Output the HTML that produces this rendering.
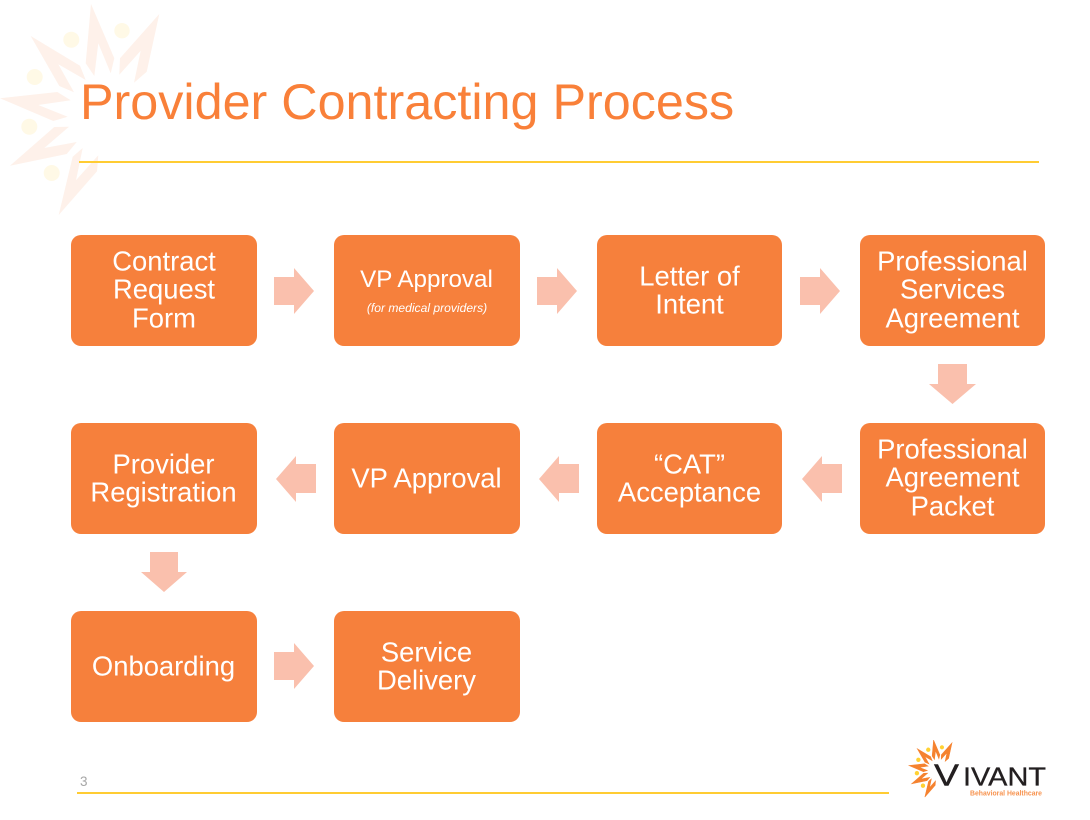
<!DOCTYPE html>
<html lang="en">
<head>
<meta charset="utf-8">
<title>Provider Contracting Process</title>
<style>
html,body{margin:0;padding:0;background:#fff}
svg{display:block}
text{font-family:"Liberation Sans",Arial,sans-serif}
.b{fill:#F6803C}
.t{fill:#fff;font-size:27.4px;text-anchor:middle}
.a{fill:#FAC0AD}
</style>
</head>
<body>
<svg width="1090" height="820" viewBox="0 0 1090 820" xmlns="http://www.w3.org/2000/svg">
<defs>
<g id="rays">
<polygon points="91,4 114.3,58.3 110.7,73.3 98.3,43.3 94.3,76 85.7,63.3"/>
<polygon points="159.3,14 146.7,71.7 134,82.7 140.7,50.7 119.3,74.7 120,58.3"/>
<polygon points="30.7,36 80,65.7 85.7,80 58.3,64.3 74,92.3 59.3,86"/>
<polygon points="0,98.3 57.3,92 70.7,100.3 38.3,105 67.7,116.7 53.3,121"/>
<polygon points="10,165.7 54.3,127 69,126.7 44.3,148 76.7,142 66.7,154"/>
<polygon points="58.7,215 72.7,156.7 82.7,148 76,180.3 98.3,155.3 97,171.3"/>
</g>
<g id="dots">
<circle cx="71.3" cy="39.7" r="8"/>
<circle cx="122" cy="30.7" r="7.7"/>
<circle cx="34.7" cy="77" r="8"/>
<circle cx="29.3" cy="126.7" r="8"/>
<circle cx="51.7" cy="173" r="8"/>
</g>
<polygon id="ar" points="0,9 20,9 20,0 40,23 20,46 20,37 0,37"/>
<polygon id="al" points="40,8 20,8 20,0 0,23 20,46 20,37 40,37"/>
<polygon id="ad" points="9,0 38,0 38,20 47,20 23.5,40 0,20 9,20"/>
</defs>

<rect width="1090" height="820" fill="#fff"/>

<use href="#rays" fill="#FEF1EA"/>
<use href="#dots" fill="#FFF9E6"/>

<text x="80" y="119" font-size="50.3" fill="#F98039">Provider Contracting Process</text>
<rect x="79" y="161" width="960" height="2" fill="#FFCC33"/>

<!-- boxes -->
<rect class="b" x="71" y="235" width="186" height="111" rx="10"/>
<rect class="b" x="334" y="235" width="186" height="111" rx="10"/>
<rect class="b" x="597" y="235" width="185" height="111" rx="10"/>
<rect class="b" x="860" y="235" width="185" height="111" rx="10"/>
<rect class="b" x="71" y="423" width="186" height="111" rx="10"/>
<rect class="b" x="334" y="423" width="186" height="111" rx="10"/>
<rect class="b" x="597" y="423" width="185" height="111" rx="10"/>
<rect class="b" x="860" y="423" width="185" height="111" rx="10"/>
<rect class="b" x="71" y="611" width="186" height="111" rx="10"/>
<rect class="b" x="334" y="611" width="186" height="111" rx="10"/>

<!-- arrows -->
<use href="#ar" class="a" x="274" y="268"/>
<use href="#ar" class="a" x="537" y="268"/>
<use href="#ar" class="a" x="800" y="268"/>
<use href="#ad" class="a" x="929" y="364"/>
<use href="#al" class="a" x="802" y="456"/>
<use href="#al" class="a" x="539" y="456"/>
<use href="#al" class="a" x="276" y="456"/>
<polygon class="a" points="150,552 178,552 178,572 187,572 164,592 141,572 150,572"/>
<use href="#ar" class="a" x="274" y="643"/>

<!-- labels -->
<text class="t" x="164" y="270.5">Contract</text>
<text class="t" x="164" y="298.5">Request</text>
<text class="t" x="164" y="327.5">Form</text>

<text class="t" x="426.5" y="287" style="font-size:24.2px">VP Approval</text>
<text class="t" x="427" y="312" style="font-size:12.1px;font-style:italic">(for medical providers)</text>

<text class="t" x="689.5" y="285.5">Letter of</text>
<text class="t" x="689.5" y="313.5">Intent</text>

<text class="t" x="952.5" y="270.5">Professional</text>
<text class="t" x="952.5" y="298.5">Services</text>
<text class="t" x="952.5" y="327.5">Agreement</text>

<text class="t" x="952.5" y="458.5">Professional</text>
<text class="t" x="952.5" y="486.5">Agreement</text>
<text class="t" x="952.5" y="515.5">Packet</text>

<text class="t" x="689.5" y="473.5">“CAT”</text>
<text class="t" x="689.5" y="501.5">Acceptance</text>

<text class="t" x="426.5" y="487.5">VP Approval</text>

<text class="t" x="163.5" y="473.5">Provider</text>
<text class="t" x="163.5" y="501.5">Registration</text>

<text class="t" x="163.5" y="675.5">Onboarding</text>

<text class="t" x="426.5" y="661.5">Service</text>
<text class="t" x="426.5" y="689.5">Delivery</text>

<!-- footer -->
<text x="80" y="786" font-size="13.5" fill="#A6A6A6">3</text>
<rect x="77" y="792" width="812" height="2" fill="#FFCC33"/>

<!-- logo -->
<g transform="translate(909,739) scale(.27)">
<use href="#rays" fill="#F5822F" stroke="#F5822F" stroke-width="2"/>
<use href="#dots" fill="#FFD233"/>
</g>
<text x="934" y="785.5" font-size="31" fill="#231F20" stroke="#231F20" stroke-width=".4" textLength="25" lengthAdjust="spacingAndGlyphs">V</text>
<text x="963" y="785.5" font-size="25.5" fill="#231F20" stroke="#231F20" stroke-width=".3" textLength="83" lengthAdjust="spacingAndGlyphs">IVANT</text>
<text x="970" y="795.5" font-size="7.4" font-weight="bold" fill="#F7934F" textLength="72" lengthAdjust="spacingAndGlyphs">Behavioral Healthcare</text>
</svg>
</body>
</html>
